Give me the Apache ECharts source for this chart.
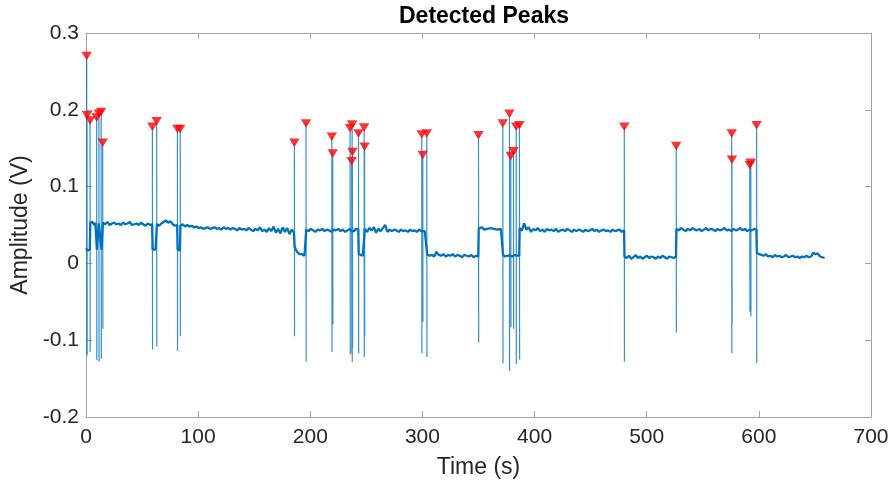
<!DOCTYPE html>
<html>
<head>
<meta charset="utf-8">
<script src="https://cdn.jsdelivr.net/npm/echarts@6/dist/echarts.min.js"></script>
<style>html,body{margin:0;padding:0;background:#fff}#c{width:892px;height:484px}</style>
</head>
<body>
<div id="c"></div>
<script>
const titleText = 'Detected Peaks';
const xAxisName = 'Time (s)';
const yAxisName = 'Amplitude (V)';
const xTicks = {min: 0, max: 700, step: 100};
const yTicks = {min: -0.2, max: 0.3, step: 0.1};

// Baseline of the recorded signal, read segment by segment (t0..t1 in s, values in V)
const seg01 = {t0: 0.0,   t1: 3.4,   v: [0.020,0.018,0.017,0.019,0.017,0.018]};
const seg02 = {t0: 3.8,   t1: 9.3,   v: [0.053,0.051,0.054,0.052,0.050,0.053,0.052]};
const seg03 = {t0: 9.7,   t1: 14.7,  v: [0.018,0.017,0.052,0.051,0.053,0.018,0.017]};
const seg04 = {t0: 15.1,  t1: 59.0,  v: [0.053,0.051,0.054,0.050,0.052,0.053,0.051,0.052,0.050,0.053,0.051,0.052,0.054,0.050,0.051,0.052,0.050,0.053,0.051,0.049,0.052,0.050,0.051]};
const seg05 = {t0: 59.4,  t1: 62.8,  v: [0.018,0.016,0.017,0.018,0.016]};
const seg06 = {t0: 63.2,  t1: 81.3,  v: [0.051,0.049,0.052,0.054,0.056,0.053,0.055,0.051,0.049,0.050]};
const seg07 = {t0: 81.7,  t1: 83.8,  v: [0.018,0.016,0.017,0.018,0.017]};
const seg08 = {t0: 84.2,  t1: 185.5, v: [0.049,0.051,0.048,0.050,0.048,0.049,0.047,0.048,0.046,0.047,0.045,0.046,0.047,0.045,0.046,0.047,0.045,0.046,0.044,0.047,0.045,0.046,0.044,0.046,0.045,0.043,0.046,0.044,0.045,0.043,0.046,0.044,0.042,0.045,0.043,0.047,0.042,0.044,0.041,0.046,0.042,0.048,0.040,0.045,0.039,0.047,0.041,0.046,0.038,0.044,0.040]};
const seg09 = {t0: 186.0, t1: 195.9, v: [0.022,0.018,0.015,0.013,0.012,0.011,0.012,0.011,0.010,0.011]};
const seg10 = {t0: 196.4, t1: 235.2, v: [0.044,0.042,0.045,0.043,0.041,0.044,0.043,0.045,0.042,0.044,0.043,0.041,0.044,0.043,0.045,0.042,0.044,0.041,0.043,0.045]};
const seg11 = {t0: 235.8, t1: 236.8, v: [0.043,0.042]};
const seg12 = {t0: 238.0, t1: 242.8, v: [0.044,0.042,0.045,0.043,0.044]};
const seg13 = {t0: 243.2, t1: 247.8, v: [0.012,0.010,0.011,0.013,0.010,0.011]};
const seg14 = {t0: 248.6, t1: 299.1, v: [0.045,0.041,0.046,0.043,0.047,0.040,0.045,0.042,0.046,0.050,0.041,0.044,0.042,0.044,0.043,0.041,0.044,0.042,0.043,0.041,0.044,0.042,0.043,0.041,0.044,0.042]};
const seg15 = {t0: 300.6, t1: 303.6, v: [0.043,0.042,0.044]};
const seg16 = {t0: 304.2, t1: 349.8, v: [0.012,0.010,0.011,0.009,0.015,0.011,0.010,0.012,0.009,0.011,0.010,0.012,0.009,0.011,0.010,0.008,0.011,0.010,0.009,0.011,0.008,0.010,0.009]};
const seg17 = {t0: 350.2, t1: 371.5, v: [0.046,0.045,0.047,0.044,0.046,0.045,0.043,0.046,0.044,0.045,0.047,0.044,0.043,0.045,0.044]};
const seg18 = {t0: 371.9, t1: 386.3, v: [0.011,0.010,0.009,0.011,0.010,0.009,0.010,0.011,0.009,0.010,0.011,0.009,0.010,0.009,0.010]};
const seg19 = {t0: 386.7, t1: 479.8, v: [0.046,0.043,0.052,0.044,0.047,0.041,0.045,0.043,0.046,0.042,0.044,0.041,0.045,0.043,0.044,0.042,0.045,0.041,0.043,0.044,0.042,0.045,0.043,0.041,0.044,0.042,0.044,0.043,0.041,0.044,0.042,0.043,0.045,0.042,0.044,0.041,0.043,0.044,0.042,0.043,0.041,0.044,0.042,0.043,0.044,0.041,0.043]};
const seg20 = {t0: 480.2, t1: 526.1, v: [0.009,0.007,0.010,0.006,0.008,0.011,0.007,0.009,0.006,0.008,0.010,0.007,0.009,0.008,0.006,0.009,0.007,0.010,0.008,0.006,0.009,0.008,0.007,0.009]};
const seg21 = {t0: 526.5, t1: 597.8, v: [0.045,0.043,0.046,0.044,0.042,0.045,0.043,0.046,0.044,0.043,0.045,0.042,0.044,0.046,0.043,0.045,0.044,0.042,0.045,0.043,0.044,0.046,0.043,0.044,0.042,0.045,0.043,0.044,0.046,0.043,0.045,0.042,0.044,0.043,0.045,0.044]};
const seg22 = {t0: 598.2, t1: 658.6, v: [0.014,0.012,0.011,0.010,0.012,0.009,0.010,0.008,0.011,0.009,0.010,0.008,0.009,0.011,0.008,0.009,0.010,0.008,0.009,0.007,0.009,0.008,0.010,0.008,0.009,0.014,0.012,0.013,0.009,0.008,0.007]};
const baselineSegments = [seg01,seg02,seg03,seg04,seg05,seg06,seg07,seg08,seg09,seg10,seg11,seg12,seg13,seg14,seg15,seg16,seg17,seg18,seg19,seg20,seg21,seg22];

// Detected peaks: time (s), peak amplitude (V), following trough (V)
const peakTimes    = [0.6, 0.9, 3.6, 9.5, 11.5, 13.5, 14.9, 59.2, 63.0, 81.5, 84.0, 185.8, 196.2, 219.2, 220.0, 235.5, 236.9, 237.3, 237.6, 243.0, 248.0, 248.4, 299.4, 300.3, 303.9, 350.0, 371.7, 377.6, 378.8, 381.2, 383.6, 386.5, 480.0, 526.3, 575.8, 576.0, 591.9, 592.8, 598.0];
const peakValues   = [0.270, 0.193, 0.186, 0.190, 0.195, 0.197, 0.157, 0.178, 0.185, 0.175, 0.175, 0.157, 0.182, 0.165, 0.143, 0.176, 0.133, 0.181, 0.145, 0.169, 0.177, 0.152, 0.168, 0.141, 0.169, 0.167, 0.182, 0.195, 0.140, 0.146, 0.178, 0.180, 0.178, 0.153, 0.169, 0.135, 0.128, 0.131, 0.180];
const troughValues = [-0.121, -0.118, -0.115, -0.126, -0.128, -0.124, -0.085, -0.112, -0.108, -0.114, -0.095, -0.095, -0.128, -0.115, -0.080, -0.119, -0.117, -0.128, -0.110, -0.117, -0.122, -0.095, -0.117, -0.076, -0.122, -0.103, -0.130, -0.140, -0.083, -0.085, -0.131, -0.125, -0.128, -0.090, -0.117, -0.079, -0.063, -0.069, -0.130];

const baseData = [];
baselineSegments.forEach(s => {
  const n = s.v.length;
  s.v.forEach((v, i) => baseData.push([n > 1 ? s.t0 + (s.t1 - s.t0) * i / (n - 1) : s.t0, v]));
});
const spikeData = [];
peakTimes.forEach((t, i) => {
  spikeData.push([t, peakValues[i]], [t + 0.15, troughValues[i]], [t + 0.15, null]);
});
const peakData = peakTimes.map((t, i) => [t, peakValues[i]]);

const font = '"Liberation Sans", Arial, Helvetica, sans-serif';
const axisColor = '#a3a3a3';
const labelColor = '#262626';
const lineBlue = '#0072BD';

function xAx(pos, primary) {
  return {
    type: 'value', position: pos, min: xTicks.min, max: xTicks.max, interval: xTicks.step,
    name: primary ? xAxisName : '', nameLocation: 'middle', nameGap: 39,
    nameTextStyle: {fontSize: 23, color: labelColor, fontFamily: font},
    axisLine: {show: true, onZero: false, lineStyle: {color: axisColor, width: 1}},
    axisTick: {show: true, inside: true, length: 6, lineStyle: {color: axisColor, width: 1}},
    axisLabel: {show: primary, fontSize: 21, color: labelColor, margin: 10, fontFamily: font},
    splitLine: {show: false}
  };
}
function yAx(pos, primary) {
  return {
    type: 'value', position: pos, min: yTicks.min, max: yTicks.max, interval: yTicks.step,
    name: primary ? yAxisName : '', nameLocation: 'middle', nameGap: 52,
    nameTextStyle: {fontSize: 23, color: labelColor, fontFamily: font},
    axisLine: {show: true, onZero: false, lineStyle: {color: axisColor, width: 1}},
    axisTick: {show: true, inside: true, length: 6, lineStyle: {color: axisColor, width: 1}},
    axisLabel: {show: primary, fontSize: 21, color: labelColor, margin: 7, fontFamily: font,
      formatter: v => Math.abs(v) < 1e-9 ? '0' : (Math.round(v * 10) / 10).toFixed(1)},
    splitLine: {show: false}
  };
}

const chart = echarts.init(document.getElementById('c'), null, {renderer: 'canvas'});
chart.setOption({
  animation: false,
  backgroundColor: '#ffffff',
  title: {text: titleText, left: 479, top: 0, textAlign: 'center',
    textStyle: {fontSize: 23, fontWeight: 'bold', color: '#000', fontFamily: font}},
  grid: {left: 86, right: 21, top: 33, bottom: 67, containLabel: false},
  xAxis: [xAx('bottom', true), xAx('top', false)],
  yAxis: [yAx('left', true), yAx('right', false)],
  series: [
    {name: 'signal', type: 'line', xAxisIndex: 0, yAxisIndex: 0, data: baseData, showSymbol: false, symbol: 'none',
     lineStyle: {color: lineBlue, width: 2.3}, z: 2},
    {name: 'spikes', type: 'line', xAxisIndex: 0, yAxisIndex: 0, data: spikeData, showSymbol: false, symbol: 'none',
     connectNulls: false, lineStyle: {color: lineBlue, width: 1.2, opacity: 0.8}, z: 2},
    {name: 'peaks', type: 'scatter', xAxisIndex: 0, yAxisIndex: 0, data: peakData, symbol: 'triangle',
     symbolRotate: 180, symbolSize: [10.5, 8.5], itemStyle: {color: '#ff0000'}, z: 5}
  ]
});
</script>
</body>
</html>
